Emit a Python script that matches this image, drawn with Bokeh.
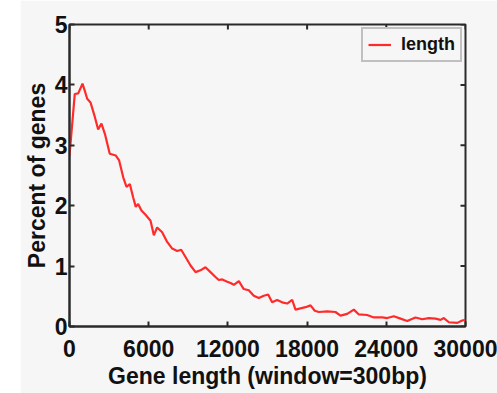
import math
from bokeh.plotting import figure
from bokeh.models import (FixedTicker, Spacer, Legend, LegendItem,
                          ColumnDataSource, Range1d)
from bokeh.layouts import row
from bokeh.embed import file_html
from bokeh.resources import INLINE

# ---- data ----
gene_length = [0, 400, 660, 985, 1160, 1340, 1590, 1920, 2170, 2420, 2680, 3050,
               3510, 3760, 4070, 4320, 4570, 4820, 5020, 5200, 5450, 5760, 6140,
               6390, 6640, 7020, 7400, 7780, 8160, 8460, 8790, 9170, 9550, 9920,
               10300, 10680, 11060, 11310, 11570, 11950, 12200, 12450, 12830,
               13200, 13580, 13960, 14340, 14720, 15050, 15350, 15730, 16110,
               16490, 16870, 17120, 17500, 17880, 18260, 18580, 18890, 19520,
               20150, 20530, 21040, 21540, 21920, 22550, 23060, 23690, 24070,
               24570, 25080, 25580, 26210, 26720, 27220, 27730, 28110, 28360,
               28740, 29370, 29750, 30000]
percent = [2.83, 3.85, 3.86, 4.02, 3.90, 3.77, 3.71, 3.47, 3.26, 3.36, 3.19, 2.86,
           2.83, 2.75, 2.47, 2.31, 2.36, 2.14, 1.98, 2.03, 1.92, 1.85, 1.75,
           1.51, 1.64, 1.56, 1.40, 1.29, 1.25, 1.27, 1.15, 1.01, 0.90, 0.93,
           0.98, 0.90, 0.82, 0.77, 0.78, 0.74, 0.72, 0.69, 0.75,
           0.62, 0.60, 0.51, 0.47, 0.51, 0.53, 0.40, 0.44, 0.40,
           0.38, 0.44, 0.28, 0.30, 0.32, 0.35, 0.26, 0.24, 0.25,
           0.24, 0.18, 0.21, 0.28, 0.20, 0.19, 0.15, 0.15, 0.14,
           0.17, 0.13, 0.09, 0.15, 0.12, 0.14, 0.13, 0.11, 0.14,
           0.07, 0.06, 0.10, 0.11]
x_ticks = [0, 6000, 12000, 18000, 24000, 30000]
y_ticks = [0, 1, 2, 3, 4, 5]
series_name = "length"
x_max = x_ticks[-1]
y_max = y_ticks[-1]

BG = "#f6f6f6"
AX = "#2a2a2a"
FONT = "Liberation Sans"

p = figure(width=477, height=393, output_backend="svg", toolbar_location=None,
           x_range=Range1d(0, x_max), y_range=Range1d(0, y_max),
           min_border_left=49, min_border_right=32, min_border_top=24,
           min_border_bottom=67, background_fill_color=BG, border_fill_color=BG,
           outline_line_color=AX, outline_line_width=2)
p.xgrid.grid_line_color = None
p.ygrid.grid_line_color = None

src = ColumnDataSource(dict(x=gene_length, y=percent))
r = p.line("x", "y", source=src, line_color="#ff2b2b", line_width=2.2)

# mirrored inward ticks on the top and right edges
p.ray(x=x_ticks, y=[y_max] * len(x_ticks), length=5, length_units="screen",
      angle=-math.pi / 2, line_color=AX, line_width=2)
p.ray(x=[x_max] * len(y_ticks), y=y_ticks, length=5, length_units="screen",
      angle=math.pi, line_color=AX, line_width=2)


def style(ax, ticks):
    ax.ticker = FixedTicker(ticks=ticks)
    ax.axis_line_color = AX
    ax.axis_line_width = 2
    ax.major_tick_in = 5
    ax.major_tick_out = 0
    ax.major_tick_line_color = AX
    ax.major_tick_line_width = 2
    ax.minor_tick_line_color = None
    ax.major_label_text_font = FONT
    ax.major_label_text_font_size = "23px"
    ax.major_label_text_font_style = "bold"
    ax.major_label_text_color = "#111111"
    ax.axis_label_text_font = FONT
    ax.axis_label_text_font_size = "23px"
    ax.axis_label_text_font_style = "bold"
    ax.axis_label_text_color = "#111111"


style(p.xaxis[0], x_ticks)
style(p.yaxis[0], y_ticks)
p.xaxis[0].axis_label = "Gene length (window=300bp)"
p.xaxis[0].major_label_standoff = 13
p.xaxis[0].axis_label_standoff = 3
p.yaxis[0].axis_label = "Percent of genes"
p.yaxis[0].major_label_standoff = 2
p.yaxis[0].axis_label_standoff = 2

legend = Legend(items=[LegendItem(label=series_name, renderers=[r])],
                location="top_right", margin=3, padding=5, spacing=0,
                glyph_width=23, glyph_height=21, label_height=21,
                label_standoff=10, label_text_font=FONT,
                label_text_font_size="18px", label_text_font_style="bold",
                label_text_color="#111111", border_line_color="#8a8a8a",
                border_line_width=2, background_fill_color=BG,
                background_fill_alpha=1)
p.add_layout(legend)

layout = row(Spacer(width=20, height=393), p, spacing=0)

open("out.html", "w").write(file_html(layout, INLINE))
